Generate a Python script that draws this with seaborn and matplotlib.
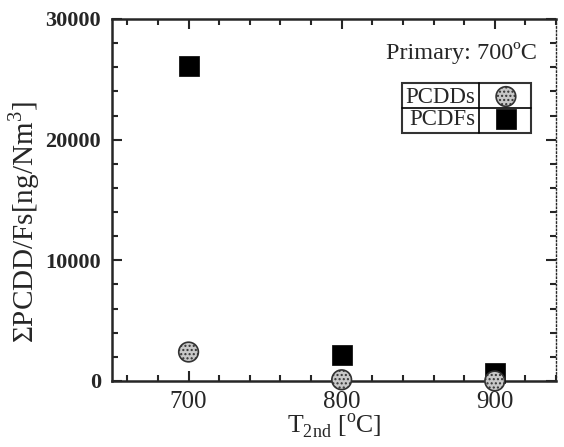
import numpy as np
import pandas as pd
import seaborn as sns
import matplotlib.pyplot as plt
from matplotlib.lines import Line2D
from matplotlib.ticker import MultipleLocator

# secondary temperature vs total PCDD/Fs
temps = [700, 800, 900]
pcdds = [2400, 100, 0]
pcdfs = [26100, 2150, 650]

df = pd.DataFrame({"T": temps * 2,
                   "conc": pcdds + pcdfs,
                   "kind": ["PCDDs"] * 3 + ["PCDFs"] * 3})

sns.set_style("ticks")
plt.rcParams['font.family'] = ['Liberation Serif', 'DejaVu Serif']
plt.rcParams['mathtext.fontset'] = 'custom'
plt.rcParams['mathtext.rm'] = 'Liberation Serif'

fig = plt.figure(figsize=(5.64, 4.47), dpi=100)
ax = fig.add_axes([0.1986, 0.1477, 0.7872, 0.8098])

d1 = df[df['kind'] == 'PCDDs']
d2 = df[df['kind'] == 'PCDFs']
sns.scatterplot(x="T", y="conc", data=d2, marker='s', s=190, color='black',
                edgecolor='black', linewidth=0.5, ax=ax, clip_on=False, zorder=3,
                label='PCDFs')
sns.scatterplot(x="T", y="conc", data=d1, marker='o', s=200, color='#c8c8c8',
                edgecolor='#333333', linewidth=1.2, hatch='....', ax=ax,
                clip_on=False, zorder=4, label='PCDDs')

ax.set_xlim(650, 940)
ax.set_ylim(0, 30000)
ax.xaxis.set_major_locator(MultipleLocator(100))
ax.xaxis.set_minor_locator(MultipleLocator(20))
ax.yaxis.set_major_locator(MultipleLocator(10000))
ax.yaxis.set_minor_locator(MultipleLocator(2000))
ax.tick_params(which='both', direction='in', top=True, right=True, width=1.5)
ax.tick_params(which='major', length=7)
ax.tick_params(which='minor', length=4)
ax.tick_params(axis='x', labelsize=18, pad=7)
ax.tick_params(axis='y', labelsize=16, pad=8)
for t in ax.get_yticklabels():
    t.set_fontweight('bold')
for sp in ['left', 'bottom', 'top']:
    ax.spines[sp].set_linewidth(1.8)
ax.spines['right'].set_linewidth(1.0)
ax.spines['right'].set_linestyle(':')

ax.set_xlabel(r"T$_{\rm 2nd}$ [$^{\rm o}$C]", fontsize=18.5, labelpad=-1)
ax.set_ylabel(r"ΣPCDD/Fs[ng/Nm$^{\rm 3}$]", fontsize=21)
ax.yaxis.set_label_coords(-0.158, 0.44)

ax.text(0.958, 0.905, "Primary: 700ºC", transform=ax.transAxes,
        ha='right', va='center', fontsize=17.5)

h, l = ax.get_legend_handles_labels()
leg = ax.legend(h[::-1], l[::-1], loc='upper right', bbox_to_anchor=(0.944, 0.823),
                markerfirst=False, frameon=True, fancybox=False, fontsize=16.5,
                borderpad=0.15, labelspacing=0.05, handletextpad=0.4,
                handlelength=1.9, borderaxespad=0)
leg.get_frame().set_edgecolor('black')
leg.get_frame().set_linewidth(1.5)

# table lines inside the legend box
fig.canvas.draw()
r = fig.canvas.get_renderer()
bb = leg.get_frame().get_window_extent(r)
texts = leg.get_texts()
tb = [t.get_window_extent(r) for t in texts]
xv = max(b.x1 for b in tb) + 4
yh = (bb.y0 + bb.y1) / 2
inv = fig.transFigure.inverted()
p0 = inv.transform((xv, bb.y0)); p1 = inv.transform((xv, bb.y1))
q0 = inv.transform((bb.x0, yh)); q1 = inv.transform((bb.x1, yh))
fig.add_artist(Line2D([p0[0], p1[0]], [p0[1], p1[1]], color='black', lw=1.2))
fig.add_artist(Line2D([q0[0], q1[0]], [q0[1], q1[1]], color='black', lw=1.2))

fig.savefig("out.png", dpi=100)
